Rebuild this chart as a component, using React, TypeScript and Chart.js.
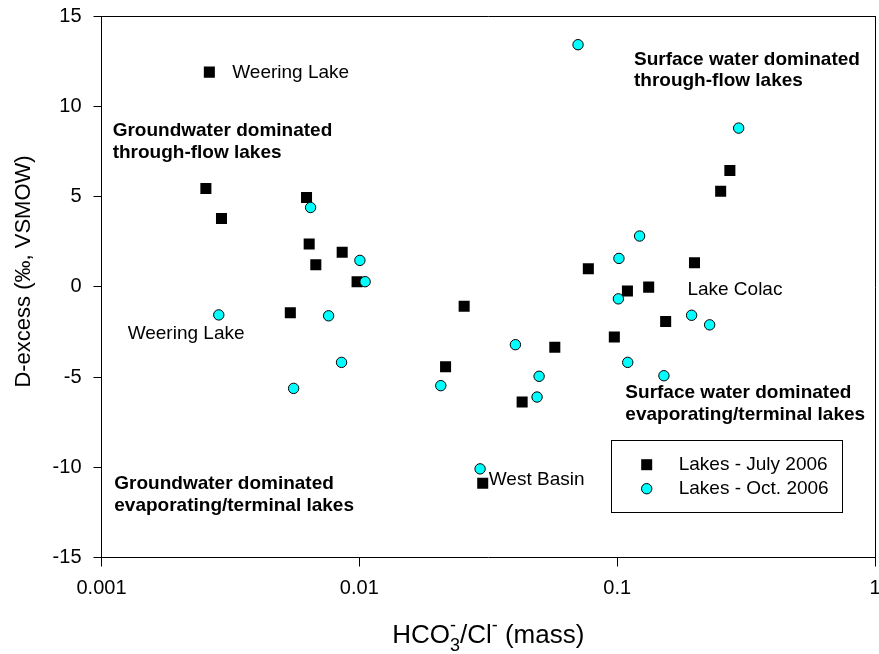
import React, { useEffect, useRef } from 'react';
import { Chart, registerables } from 'chart.js';

Chart.register(...registerables);

const FONT = "'Liberation Sans', Arial, Helvetica, sans-serif";

// Lakes - July 2006 (black squares)
const julyX = [0.00262, 0.00254, 0.00292, 0.00624, 0.00639, 0.00678, 0.00858, 0.0098, 0.0054, 0.0216, 0.0255, 0.0428, 0.0301, 0.0573, 0.0773, 0.0975, 0.1096, 0.1325, 0.1542, 0.1995, 0.252, 0.2736];
const julyY = [11.89, 5.44, 3.78, 4.94, 2.37, 1.22, 1.91, 0.28, -1.44, -4.43, -1.08, -6.39, -10.89, -3.35, 1.0, -2.78, -0.24, -0.02, -1.93, 1.33, 5.29, 6.44];

// Lakes - Oct. 2006 (cyan circles)
const octX = [0.00647, 0.01005, 0.01053, 0.00285, 0.0076, 0.00853, 0.00556, 0.0207, 0.0403, 0.0498, 0.0489, 0.0294, 0.0705, 0.296, 0.1222, 0.1016, 0.1011, 0.1944, 0.2284, 0.1099, 0.1518];
const octY = [4.39, 1.46, 0.28, -1.56, -1.61, -4.19, -5.63, -5.48, -3.21, -4.96, -6.11, -10.09, 13.41, 8.79, 2.81, 1.57, -0.67, -1.58, -2.11, -4.19, -4.93];

const seriesNames = ['Lakes - July 2006', 'Lakes - Oct. 2006'];

const xTickValues = [0.001, 0.01, 0.1, 1];
const yTickValues = [-15, -10, -5, 0, 5, 10, 15];

const yTitle = 'D-excess (‰, VSMOW)';

// annotation texts anchored at data coordinates (left, baseline of first line)
const annotations = [
  { lines: ['Weering Lake'], x: 0.003214, y: 11.57, bold: false },
  { lines: ['Groundwater dominated', 'through-flow lakes'], x: 0.001105, y: 8.33, bold: true },
  { lines: ['Weering Lake'], x: 0.001263, y: -2.89, bold: false },
  { lines: ['Groundwater dominated', 'evaporating/terminal lakes'], x: 0.001121, y: -11.22, bold: true },
  { lines: ['Surface water dominated', 'through-flow lakes'], x: 0.1162, y: 12.29, bold: true },
  { lines: ['Lake Colac'], x: 0.1872, y: -0.48, bold: false },
  { lines: ['Surface water dominated', 'evaporating/terminal lakes'], x: 0.1076, y: -6.19, bold: true },
  { lines: ['West Basin'], x: 0.03177, y: -10.98, bold: false },
];

const overlayPlugin = {
  id: 'overlay',
  afterDraw(chart: any) {
    const { ctx, chartArea: a, scales } = chart;
    ctx.save();
    ctx.strokeStyle = '#000';
    ctx.lineWidth = 1;
    ctx.beginPath();
    const ty = Math.round(a.top) + 0.5;
    const rx = Math.round(a.right) + 0.5;
    ctx.moveTo(a.left, ty);
    ctx.lineTo(rx + 0.5, ty);
    ctx.moveTo(rx, ty);
    ctx.lineTo(rx, a.bottom + 0.5);
    ctx.stroke();

    // annotations
    ctx.fillStyle = '#000';
    ctx.textAlign = 'left';
    ctx.textBaseline = 'alphabetic';
    for (const an of annotations) {
      ctx.font = `${an.bold ? 'bold ' : ''}19px ${FONT}`;
      const px = scales.x.getPixelForValue(an.x);
      const py = scales.y.getPixelForValue(an.y);
      an.lines.forEach((ln, i) => ctx.fillText(ln, px, py + i * 21.5));
    }

    // legend
    const lx = 611.5, ly = 440.5, lw = 231, lh = 72;
    ctx.fillStyle = '#fff';
    ctx.fillRect(lx, ly, lw, lh);
    ctx.strokeStyle = '#000';
    ctx.strokeRect(lx, ly, lw, lh);
    const mx = 646.7;
    const my1 = 464.7, my2 = 488.7;
    ctx.fillStyle = '#000';
    ctx.fillRect(mx - 5.5, my1 - 5.5, 11, 11);
    ctx.beginPath();
    ctx.arc(mx, my2, 5.2, 0, Math.PI * 2);
    ctx.fillStyle = '#00FFFF';
    ctx.fill();
    ctx.strokeStyle = '#000';
    ctx.stroke();
    ctx.fillStyle = '#000';
    ctx.font = `19px ${FONT}`;
    ctx.textBaseline = 'middle';
    ctx.fillText(seriesNames[0], 678.7, my1);
    ctx.fillText(seriesNames[1], 678.7, my2);

    // y title
    ctx.save();
    ctx.translate(24, 271.5);
    ctx.rotate(-Math.PI / 2);
    ctx.textAlign = 'center';
    ctx.textBaseline = 'middle';
    ctx.font = `22px ${FONT}`;
    ctx.fillText(yTitle, 0, 0);
    ctx.restore();

    // x title with sub/superscripts
    const parts = [
      { t: 'HCO', size: 26, dy: 0 },
      { t: '3', size: 18, dy: 8 },
      { t: '-', size: 18, dy: -12, overlapPrev: true },
      { t: '/Cl', size: 26, dy: 0 },
      { t: '-', size: 18, dy: -12 },
      { t: ' (mass)', size: 26, dy: 0 },
    ];
    ctx.textAlign = 'left';
    ctx.textBaseline = 'alphabetic';
    const widths = parts.map((p) => {
      ctx.font = `${p.size}px ${FONT}`;
      return ctx.measureText(p.t).width;
    });
    let total = 0;
    parts.forEach((p, i) => {
      if (p.overlapPrev) total += Math.max(0, widths[i] - widths[i - 1]);
      else total += widths[i];
    });
    const cx = (a.left + a.right) / 2;
    let x = cx - total / 2;
    const base = 643.3;
    let prevStart = x;
    parts.forEach((p, i) => {
      ctx.font = `${p.size}px ${FONT}`;
      if (p.overlapPrev) {
        ctx.fillText(p.t, prevStart, base + p.dy);
        x = prevStart + Math.max(widths[i], widths[i - 1]);
      } else {
        ctx.fillText(p.t, x, base + p.dy);
        prevStart = x;
        x += widths[i];
      }
    });
    ctx.restore();
  },
};

export default function App() {
  const ref = useRef<HTMLCanvasElement>(null);

  useEffect(() => {
    const canvas = ref.current!;
    const tickFont = { family: FONT, size: 20 };
    const chart = new Chart(canvas, {
      type: 'scatter',
      data: {
        datasets: [
          {
            label: seriesNames[0],
            data: julyX.map((x, i) => ({ x, y: julyY[i] })),
            pointStyle: 'rect',
            pointRadius: 7.8,
            backgroundColor: '#000',
            borderColor: '#000',
            borderWidth: 0,
            order: 1,
          },
          {
            label: seriesNames[1],
            data: octX.map((x, i) => ({ x, y: octY[i] })),
            pointStyle: 'circle',
            pointRadius: 5.2,
            backgroundColor: '#00FFFF',
            borderColor: '#000',
            borderWidth: 1,
            order: 0,
          },
        ],
      },
      options: {
        animation: false,
        responsive: false,
        maintainAspectRatio: false,
        devicePixelRatio: 1,
        layout: { autoPadding: false, padding: { left: 0, right: 4, top: 16, bottom: 0 } },
        plugins: { legend: { display: false }, tooltip: { enabled: false } },
        scales: {
          x: {
            type: 'logarithmic',
            min: 0.001,
            max: 1,
            afterBuildTicks: (s: any) => {
              s.ticks = xTickValues.map((v) => ({ value: v }));
            },
            ticks: {
              callback: (v: any) => String(v),
              font: tickFont,
              color: '#000',
              padding: 10,
              autoSkip: false,
              maxRotation: 0,
            },
            grid: {
              display: true,
              drawOnChartArea: false,
              drawTicks: true,
              tickLength: 9,
              color: '#000',
              tickColor: '#000',
            },
            border: { display: true, color: '#000', width: 1 },
            afterFit: (s: any) => {
              s.height = 96.5;
              s.paddingLeft = 0;
              s.paddingRight = 0;
            },
          },
          y: {
            type: 'linear',
            min: -15,
            max: 15,
            afterBuildTicks: (s: any) => {
              s.ticks = yTickValues.map((v) => ({ value: v }));
            },
            ticks: {
              callback: (v: any) => String(v),
              font: tickFont,
              color: '#000',
              padding: 12,
            },
            grid: {
              display: true,
              drawOnChartArea: false,
              drawTicks: true,
              tickLength: 8,
              color: '#000',
              tickColor: '#000',
            },
            border: { display: true, color: '#000', width: 1 },
            afterFit: (s: any) => {
              s.width = 101.5;
              s.paddingTop = 0;
              s.paddingBottom = 0;
            },
          },
        },
      },
      plugins: [overlayPlugin],
    } as any);
    return () => chart.destroy();
  }, []);

  return (
    <div style={{ position: 'fixed', left: 0, top: 0, width: 879, height: 654, background: '#fff' }}>
      <canvas ref={ref} width={879} height={654} style={{ display: 'block', width: 879, height: 654 }} />
    </div>
  );
}
